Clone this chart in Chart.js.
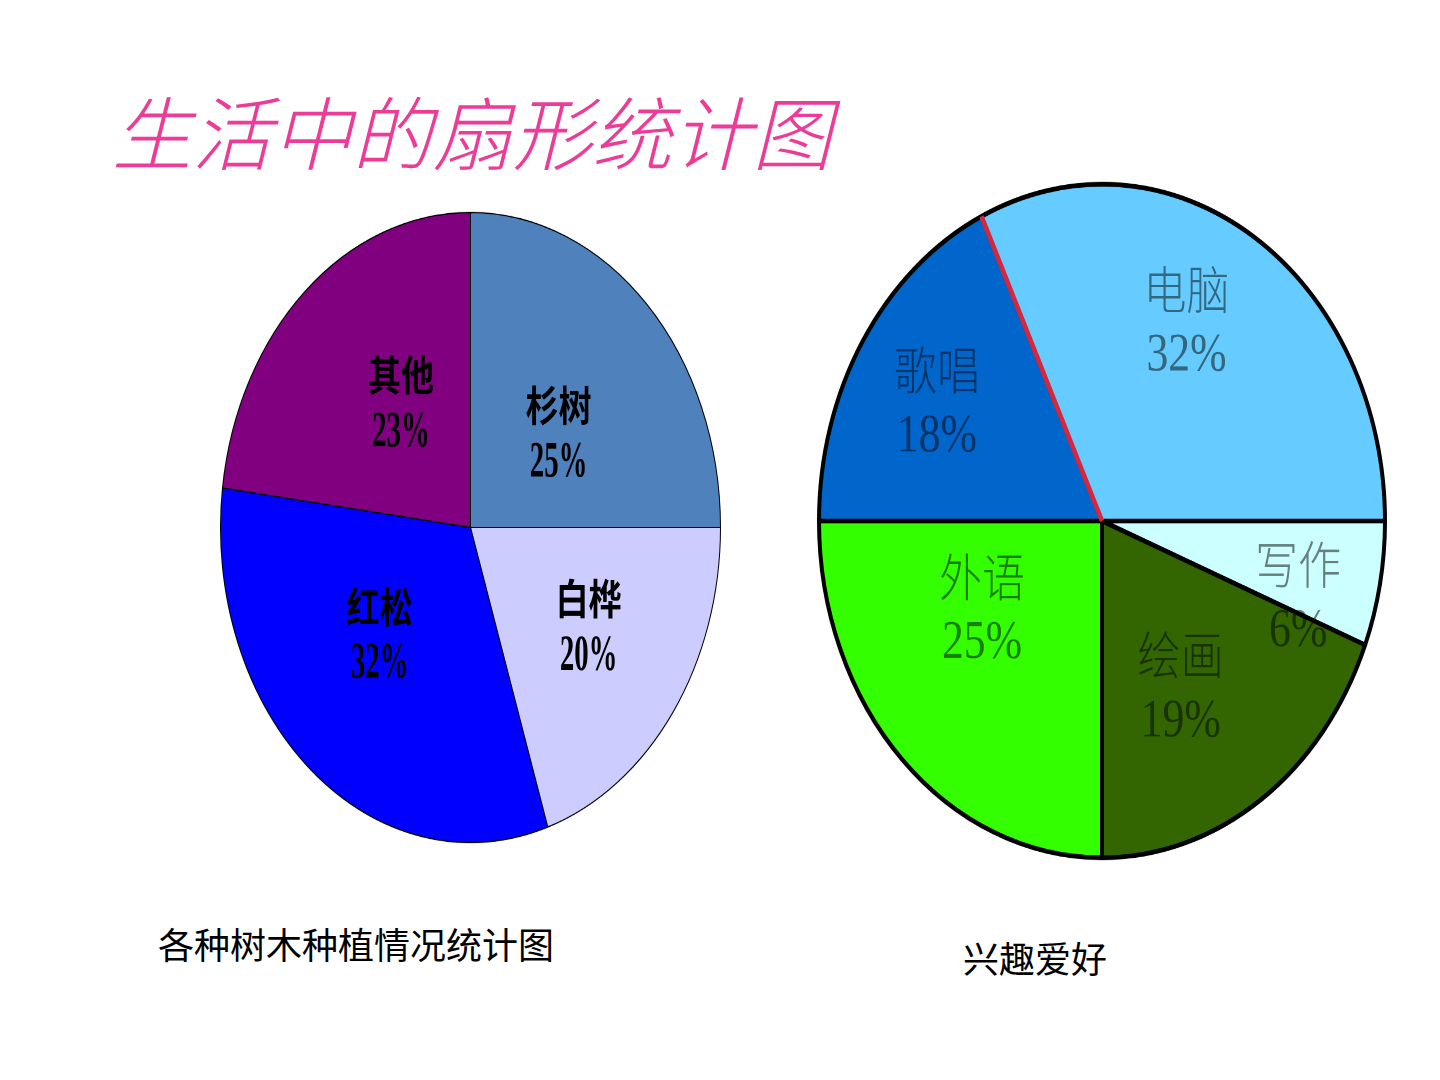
<!DOCTYPE html>
<html>
<head>
<meta charset="utf-8">
<script src="https://cdn.jsdelivr.net/npm/chart.js@4"></script>
<style>
  body { margin: 0; background: #fff; width: 1440px; height: 1080px; position: relative; overflow: hidden; }
  .title { position: absolute; left: 112px; top: 89px; font: italic 300 80px "Noto Sans CJK SC", sans-serif; color: #ec3c98; white-space: nowrap; line-height: 1; }
  .caption { position: absolute; font: 400 36px "Noto Sans CJK SC", sans-serif; color: #000; white-space: nowrap; line-height: 1; }
  .pie { position: absolute; transform-origin: 50% 50%; }
</style>
</head>
<body>
<div class="title">生活中的扇形统计图</div>

<div class="pie" style="left:219.5px; top:276.5px; width:501px; height:501px; transform:scaleY(1.26);">
  <canvas id="treeChart" width="501" height="501"></canvas>
</div>
<div class="pie" style="left:817px; top:236px; width:570px; height:570px; transform:scaleY(1.19);">
  <canvas id="hobbyChart" width="570" height="570"></canvas>
</div>

<div class="caption" style="left:158px; top:925px;">各种树木种植情况统计图</div>
<div class="caption" style="left:963px; top:939px;">兴趣爱好</div>

<script>
// DATI - alberi
const treeLabels = ['杉树', '白桦', '红松', '其他'];
const treeValues = [25, 20, 32, 23];
const treeColors = ['#4f81bd', '#ccccff', '#0000ff', '#800080'];

// DATI - hobby
const hobbyLabels = ['外语', '歌唱', '电脑', '写作', '绘画'];
const hobbyValues = [25, 18, 32, 6, 19];
const hobbyColors = ['#33ff00', '#0066cc', '#66ccff', '#ccffff', '#336600'];

// posizione etichette: [frazione del raggio, scarto angolare in gradi dal centro fetta]
const treeLabelPos = [[0.46, 5], [0.57, -2], [0.5, 7], [0.48, 6]];
const hobbyLabelPos = [[0.5, 13], [0.68, -1.5], [0.66, -5.5], [0.73, 7.5], [0.57, 5]];

// etichette dentro le fette (nome + percentuale)
const sliceLabels = {
  id: 'sliceLabels',
  afterDatasetsDraw(chart, args, opts) {
    const ctx = chart.ctx;
    const meta = chart.getDatasetMeta(0);
    const values = chart.data.datasets[0].data;
    ctx.save();
    ctx.textAlign = 'center';
    ctx.textBaseline = 'middle';
    ctx.fillStyle = opts.color;
    meta.data.forEach((arc, i) => {
      const [frac, shift] = opts.pos[i];
      const ang = (arc.startAngle + arc.endAngle) / 2 + shift * Math.PI / 180;
      const r = arc.outerRadius * frac;
      const x = arc.x + Math.cos(ang) * r;
      const y = arc.y + Math.sin(ang) * r;
      ctx.font = opts.font;
      ctx.fillText(chart.data.labels[i], x, y - opts.gap / 2);
      ctx.save();
      ctx.translate(x, y + opts.gap / 2);
      ctx.scale(opts.numScaleX, 1);
      ctx.font = opts.numFont;
      ctx.fillText(values[i] + '%', 0, 0);
      ctx.restore();
    });
    ctx.restore();
  }
};

// linea rossa sul bordo di una fetta
const redEdge = {
  id: 'redEdge',
  afterDatasetsDraw(chart, args, opts) {
    if (!opts || opts.index == null) return;
    const arc = chart.getDatasetMeta(0).data[opts.index];
    const ctx = chart.ctx;
    ctx.save();
    ctx.strokeStyle = opts.color;
    ctx.lineWidth = opts.width;
    ctx.beginPath();
    ctx.moveTo(arc.x, arc.y);
    ctx.lineTo(arc.x + Math.cos(arc.startAngle) * arc.outerRadius, arc.y + Math.sin(arc.startAngle) * arc.outerRadius);
    ctx.stroke();
    ctx.restore();
  }
};

const baseOptions = {
  responsive: false,
  animation: false,
  devicePixelRatio: 2,
  layout: { padding: 0 },
  events: []
};

new Chart(document.getElementById('treeChart'), {
  type: 'pie',
  data: {
    labels: treeLabels,
    datasets: [{ data: treeValues, backgroundColor: treeColors, borderColor: '#000', borderWidth: 1 }]
  },
  options: {
    ...baseOptions,
    rotation: 0,
    plugins: {
      legend: { display: false },
      tooltip: { enabled: false },
      sliceLabels: {
        pos: treeLabelPos, gap: 46, color: '#000', numScaleX: 0.72,
        font: 'bold 33px "Noto Sans CJK SC", sans-serif',
        numFont: 'bold 40px "Liberation Serif", serif'
      }
    }
  },
  plugins: [sliceLabels]
});

new Chart(document.getElementById('hobbyChart'), {
  type: 'pie',
  data: {
    labels: hobbyLabels,
    datasets: [{ data: hobbyValues, backgroundColor: hobbyColors, borderColor: '#000', borderWidth: 4 }]
  },
  options: {
    ...baseOptions,
    rotation: 180,
    plugins: {
      legend: { display: false },
      tooltip: { enabled: false },
      redEdge: { index: 2, color: '#d9263a', width: 4.5 },
      sliceLabels: {
        pos: hobbyLabelPos, gap: 56, color: 'rgba(0,0,0,0.5)', numScaleX: 0.95,
        font: '300 43px "Noto Sans CJK SC", sans-serif',
        numFont: '46px "Liberation Serif", serif'
      }
    }
  },
  plugins: [redEdge, sliceLabels]
});
</script>
</body>
</html>
